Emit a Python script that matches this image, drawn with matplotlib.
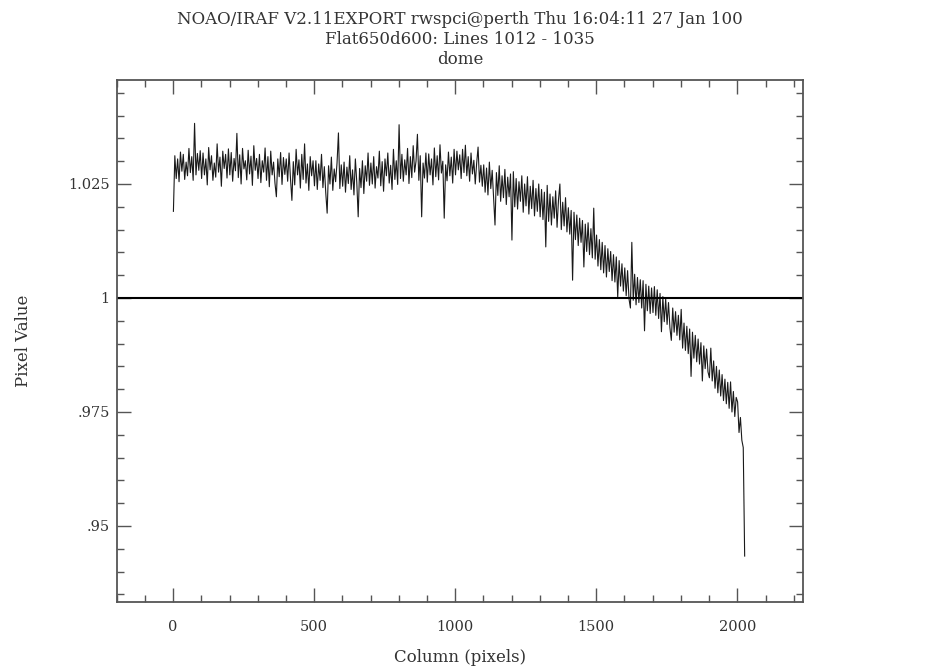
"""IRAF-style flat field line plot (Flat650d600, lines 1012-1035)."""

import numpy as np
import matplotlib
matplotlib.use("Agg")
import matplotlib.pyplot as plt
from matplotlib.ticker import MultipleLocator, FixedLocator, FixedFormatter

# ---- data (one sample every 5 columns, 20 per row) ----
column_start = 1
column_step = 5
pixel_value = [
    1.0190, 1.0312, 1.0262, 1.0305, 1.0255, 1.0320, 1.0278, 1.0315, 1.0260, 1.0298, 1.0268, 1.0328, 1.0275, 1.0310, 1.0258, 1.0383, 1.0270, 1.0317, 1.0280, 1.0323,
    1.0262, 1.0318, 1.0270, 1.0305, 1.0248, 1.0330, 1.0281, 1.0312, 1.0258, 1.0296, 1.0265, 1.0338, 1.0276, 1.0309, 1.0245, 1.0322, 1.0284, 1.0315, 1.0263, 1.0327,
    1.0270, 1.0319, 1.0256, 1.0306, 1.0279, 1.0361, 1.0264, 1.0314, 1.0250, 1.0328, 1.0283, 1.0301, 1.0259, 1.0324, 1.0272, 1.0311, 1.0247, 1.0334, 1.0280, 1.0306,
    1.0262, 1.0315, 1.0253, 1.0301, 1.0276, 1.0329, 1.0258, 1.0310, 1.0244, 1.0322, 1.0270, 1.0298, 1.0252, 1.0222, 1.0305, 1.0266, 1.0319, 1.0249, 1.0308, 1.0271,
    1.0305, 1.0256, 1.0318, 1.0262, 1.0214, 1.0299, 1.0248, 1.0326, 1.0270, 1.0303, 1.0241, 1.0315, 1.0260, 1.0338, 1.0252, 1.0294, 1.0236, 1.0310, 1.0268, 1.0301,
    1.0246, 1.0301, 1.0238, 1.0294, 1.0258, 1.0315, 1.0242, 1.0288, 1.0231, 1.0186, 1.0290, 1.0250, 1.0309, 1.0236, 1.0283, 1.0255, 1.0296, 1.0362, 1.0240, 1.0292,
    1.0245, 1.0298, 1.0232, 1.0287, 1.0251, 1.0312, 1.0238, 1.0281, 1.0226, 1.0305, 1.0254, 1.0178, 1.0284, 1.0242, 1.0301, 1.0229, 1.0290, 1.0256, 1.0318, 1.0247,
    1.0296, 1.0250, 1.0310, 1.0241, 1.0288, 1.0263, 1.0322, 1.0246, 1.0299, 1.0234, 1.0305, 1.0268, 1.0318, 1.0252, 1.0291, 1.0238, 1.0326, 1.0260, 1.0301, 1.0249,
    1.0380, 1.0262, 1.0315, 1.0256, 1.0303, 1.0270, 1.0328, 1.0251, 1.0310, 1.0264, 1.0334, 1.0276, 1.0300, 1.0359, 1.0258, 1.0312, 1.0178, 1.0296, 1.0263, 1.0318,
    1.0254, 1.0316, 1.0270, 1.0305, 1.0248, 1.0329, 1.0266, 1.0312, 1.0259, 1.0336, 1.0274, 1.0300, 1.0175, 1.0292, 1.0257, 1.0320, 1.0268, 1.0309, 1.0252, 1.0326,
    1.0270, 1.0322, 1.0281, 1.0314, 1.0262, 1.0326, 1.0275, 1.0335, 1.0268, 1.0310, 1.0256, 1.0318, 1.0272, 1.0302, 1.0250, 1.0296, 1.0331, 1.0254, 1.0291, 1.0245,
    1.0292, 1.0232, 1.0285, 1.0226, 1.0298, 1.0240, 1.0280, 1.0218, 1.0160, 1.0275, 1.0225, 1.0290, 1.0212, 1.0268, 1.0220, 1.0282, 1.0205, 1.0265, 1.0222, 1.0272,
    1.0127, 1.0277, 1.0200, 1.0262, 1.0195, 1.0255, 1.0212, 1.0268, 1.0188, 1.0250, 1.0202, 1.0266, 1.0184, 1.0245, 1.0196, 1.0258, 1.0180, 1.0240, 1.0190, 1.0250,
    1.0178, 1.0238, 1.0172, 1.0232, 1.0112, 1.0247, 1.0168, 1.0228, 1.0160, 1.0222, 1.0175, 1.0235, 1.0155, 1.0215, 1.0250, 1.0150, 1.0210, 1.0158, 1.0220, 1.0145,
    1.0198, 1.0140, 1.0192, 1.0039, 1.0188, 1.0128, 1.0182, 1.0115, 1.0175, 1.0122, 1.0170, 1.0068, 1.0162, 1.0102, 1.0165, 1.0095, 1.0152, 1.0088, 1.0197, 1.0085,
    1.0138, 1.0070, 1.0128, 1.0062, 1.0122, 1.0055, 1.0115, 1.0046, 1.0108, 1.0058, 1.0102, 1.0038, 1.0095, 1.0035, 1.0090, 1.0002, 1.0082, 1.0026, 1.0075, 1.0015,
    1.0066, 1.0005, 1.0060, 0.9998, 0.9978, 1.0122, 0.9995, 1.0052, 0.9985, 1.0045, 0.9990, 1.0040, 0.9978, 1.0038, 0.9928, 1.0030, 0.9972, 1.0026, 0.9966, 1.0022,
    0.9968, 1.0025, 0.9962, 1.0018, 0.9955, 1.0010, 0.9926, 1.0003, 0.9948, 0.9998, 0.9942, 0.9990, 0.9935, 0.9907, 0.9978, 0.9925, 0.9970, 0.9918, 0.9962, 0.9908,
    0.9975, 0.9890, 0.9945, 0.9885, 0.9938, 0.9878, 0.9932, 0.9828, 0.9925, 0.9868, 0.9918, 0.9860, 0.9910, 0.9855, 0.9902, 0.9818, 0.9895, 0.9845, 0.9888, 0.9838,
    0.9825, 0.9890, 0.9818, 0.9862, 0.9802, 0.9850, 0.9792, 0.9842, 0.9785, 0.9832, 0.9775, 0.9822, 0.9768, 0.9815, 0.9758, 0.9816, 0.9750, 0.9795, 0.9740, 0.9782,
    0.9772, 0.9705, 0.9738, 0.9688, 0.9672, 0.9434,
]
reference_level = 1.0

title_lines = [
    "NOAO/IRAF V2.11EXPORT rwspci@perth Thu 16:04:11 27 Jan 100",
    "Flat650d600: Lines 1012 - 1035",
    "dome",
]
x_ticks = [0, 500, 1000, 1500, 2000]
x_tick_labels = ["0", "500", "1000", "1500", "2000"]
y_ticks = [0.95, 0.975, 1.0, 1.025]
y_tick_labels = [".95", ".975", "1", "1.025"]

FONT = "DejaVu Serif"
TEXT_COLOR = "#333333"
FRAME_COLOR = "#555555"

columns = column_start + column_step * np.arange(len(pixel_value))

fig = plt.figure(figsize=(9.27, 6.68), dpi=100)
ax = fig.add_axes([0.1259, 0.0993, 0.7407, 0.7809])

ax.plot(columns, pixel_value, color="#1a1a1a", linewidth=0.8)
ax.axhline(reference_level, color="black", linewidth=1.5)

ax.set_xlim(-200, 2234)
ax.set_ylim(0.9334, 1.0478)

ax.xaxis.set_major_locator(FixedLocator(x_ticks))
ax.xaxis.set_major_formatter(FixedFormatter(x_tick_labels))
ax.xaxis.set_minor_locator(MultipleLocator(100))
ax.yaxis.set_major_locator(FixedLocator(y_ticks))
ax.yaxis.set_major_formatter(FixedFormatter(y_tick_labels))
ax.yaxis.set_minor_locator(MultipleLocator(0.005))

ax.tick_params(which="both", direction="in", top=True, right=True,
               color=FRAME_COLOR, width=1.0)
ax.tick_params(which="major", length=10, labelsize=10.5, labelcolor=TEXT_COLOR)
ax.tick_params(which="minor", length=5)
ax.tick_params(axis="x", which="major", pad=13)
ax.tick_params(axis="y", which="major", pad=5)
for label in ax.get_xticklabels() + ax.get_yticklabels():
    label.set_family(FONT)

for spine in ax.spines.values():
    spine.set_color(FRAME_COLOR)
    spine.set_linewidth(1.3)

ax.set_xlabel("Column (pixels)", family=FONT, fontsize=12, color=TEXT_COLOR)
ax.set_ylabel("Pixel Value", family=FONT, fontsize=12, color=TEXT_COLOR)
ax.xaxis.set_label_coords(0.5, -0.09)
ax.yaxis.set_label_coords(-0.124, 0.5)

for i, line in enumerate(title_lines):
    fig.text(0.4962, 1 - (19 + 20 * i) / 668, line, family=FONT, fontsize=12,
             color=TEXT_COLOR, ha="center", va="center")

fig.savefig("out.png", dpi=100)
